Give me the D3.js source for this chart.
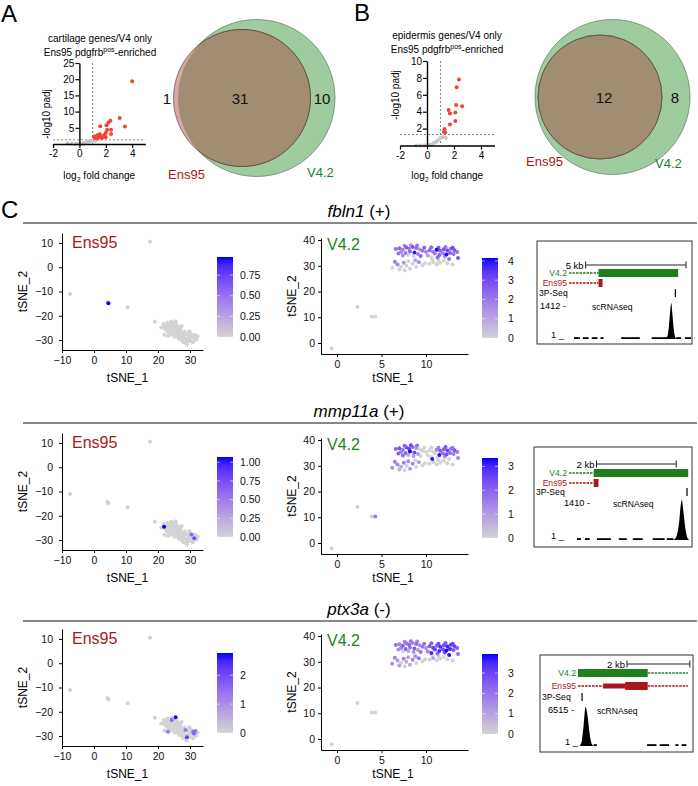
<!DOCTYPE html>
<html>
<head>
<meta charset="utf-8">
<script src="https://cdn.jsdelivr.net/npm/d3@7"></script>
<style>
  body { margin: 0; background: #fff; }
  svg { font-family: "Liberation Sans", Arial, Helvetica, sans-serif; }
</style>
</head>
<body>
<svg id="fig" width="698" height="786"></svg>
<script>
// ---------------- data ----------------
// volcano A: cartilage genes, [log2FC, -log10 padj]
const volcA_sig = [[4.0,19.4],[3.05,8.0],[3.45,5.4],[2.35,7.2],[2.2,6.6],[2.05,5.8],[1.58,5.5],[2.1,4.4],[2.4,4.4],
  [2.0,3.5],[2.4,3.1],[1.55,3.0],[1.3,2.5],[1.5,2.2],[1.4,2.8],[1.25,2.0],[1.15,1.9],[1.1,2.3],[1.8,2.4],
  [2.0,2.1],[1.7,1.8],[1.9,2.8],[1.35,1.7]];
const volcA_ns = [[-0.9,0.2],[-0.6,0.1],[-0.3,0.0],[-0.1,0.1],[0.1,0.05],[0.3,0.2],[0.45,0.35],[0.6,0.6],
  [0.75,0.8],[0.9,1.0],[1.05,1.1],[1.2,1.0],[0.35,0.1],[0.2,0.0]];
// volcano B: epidermis genes
const volcB_sig = [[2.37,7.8],[2.2,6.9],[2.16,4.8],[2.6,4.65],[1.6,4.2],[2.1,3.9],[1.7,3.8],[2.1,2.9],
  [1.7,2.5],[1.3,1.95],[1.25,1.6],[1.35,1.55]];
const volcB_ns = [[-0.8,0.0],[-0.5,0.0],[-0.2,0.0],[0.1,0.05],[0.3,0.1],[0.5,0.3],[0.65,0.4],[0.8,0.6],
  [1.0,0.9],[1.2,1.0],[1.4,0.9]];
const padjCut = 1.3;

// venn counts: [Ens95 only, shared, V4.2 only]
const vennA = [1, 31, 10];
const vennB = [0, 12, 8];

// tSNE coordinates, Ens95 cells
const ens95Cells = [
  [17.5,10.5],[-7.5,-11.0],[4.2,-14.3],[4.5,-14.8],[10.5,-16.5],[19.0,-22.5],
  [21.9,-24.5],[30.5,-27.7],[31.3,-29.3],
  [25.5,-22.3],[24.3,-23.4],[23.1,-28.2],[28.6,-27.5],[31.0,-28.2],[31.7,-27.9],[29.0,-30.5],[31.2,-29.0],
  [21.0,-24.8],[21.8,-23.4],[22.5,-24.2],[23.0,-22.8],[23.5,-23.9],[24.2,-22.5],[24.8,-23.2],[25.3,-23.6],
  [22.2,-25.5],[23.1,-25.0],[23.8,-24.6],[24.5,-24.9],[25.2,-24.3],[25.9,-23.8],[26.4,-24.6],[22.8,-26.3],
  [23.6,-26.0],[24.3,-26.4],[25.0,-25.8],[25.7,-25.5],[26.3,-25.9],[27.0,-25.4],[23.4,-27.3],[24.0,-27.8],
  [24.9,-27.2],[25.6,-27.0],[26.2,-27.4],[27.0,-26.8],[27.6,-27.2],[28.3,-26.5],[25.2,-28.6],[26.0,-28.4],
  [26.8,-28.2],[27.5,-28.6],[28.2,-28.0],[28.9,-27.6],[29.5,-27.9],[30.2,-27.4],[26.5,-29.5],[27.3,-29.8],
  [28.0,-29.4],[28.8,-29.6],[29.6,-29.2],[30.3,-29.0],[31.6,-29.8],[27.8,-30.8],[28.6,-31.2],[29.4,-30.6],
  [30.2,-30.4],[30.9,-30.9],[29.0,-31.8],[22.0,-27.8],[27.4,-24.2],[29.8,-26.4],[32.4,-28.5],[32.0,-29.8]
];
// Ens95 expression, [cell index, value]; all other cells 0
const fbln1Ens = [[3,0.97]];
const mmp11aEns = [[6,1.07],[7,0.6],[8,0.75]];
const ptx3aEns = [[9,2.75],[10,1.6],[11,1.4],[12,1.3],[13,1.6],[14,1.4],[15,2.2],[16,1.7]];

// tSNE coordinates, V4.2 cells
const v42Cells = [
  [-0.6,-2.0],[2.3,14.0],[3.9,10.3],[4.3,10.3],
  [6.2,29.2],[6.8,30.5],[7.2,29.6],[7.5,31.2],[7.8,30.0],[8.2,28.9],[8.5,30.8],[8.9,29.5],[9.2,31.4],[9.6,30.2],
  [7.0,28.6],[7.6,28.3],[8.0,31.8],[8.8,32.2],[9.9,31.0],[6.5,31.6],[10.4,30.8],[10.8,31.5],[11.2,30.6],[11.6,31.2],
  [12.0,32.0],[11.4,32.2],[10.7,32.6],[13.0,30.5],[12.4,31.0],
  [6.6,36.5],[7.0,36.8],[7.4,36.2],[7.8,37.1],[8.1,36.6],[8.5,37.3],[8.9,36.9],[9.3,36.4],
  [7.2,35.4],[7.7,35.0],[8.2,35.6],[8.7,35.2],[9.1,34.6],[9.6,35.8],[10.0,35.4],[10.4,36.0],
  [10.8,35.5],[11.2,36.2],[11.6,35.8],[12.0,36.4],[12.4,35.9],[12.8,36.6],[13.2,36.0],[13.5,35.4],
  [11.0,34.8],[11.5,34.2],[11.9,34.9],[12.3,34.4],[12.7,35.0],[13.1,34.6],[13.6,33.0],[10.2,34.0],
  [10.6,33.4],[11.3,33.2],[12.1,33.6],[12.6,32.6],[9.4,33.8],[8.6,33.8],[8.0,34.2],[7.4,34.0],
  [6.9,34.8],[9.8,37.0],[10.6,37.2],[11.4,37.0],[12.2,37.3],[13.0,37.0],[8.3,38.0],[9.0,37.9],[7.6,37.8]
];
// V4.2 expression, one value per cell above
const fbln1V42 = [
  0,0,0,0,
  0,1.8,0,1.5,0,0,0,0,1.6,0, 0,0,0,1.2,0,2.0,0,0,0,0, 0,0,0,0,0,
  2.2,2.5,1.8,2.6,2.0,2.8,2.4,1.5, 1.6,2.0,2.3,3.9,1.8,2.2,1.7,2.5,
  2.0,4.1,2.6,2.8,3.0,2.4,2.7,2.2, 2.0,2.5,1.8,4.0,2.6,2.2,2.8,1.2,
  0,2.3,1.6,2.0,2.5,0,0,1.5, 2.2,2.6,2.4,2.8,2.0,3.0,1.5,2.0,1.8
];
const mmp11aV42 = [
  0,0,0,1.6,
  1.2,1.5,0.8,1.6,0,1.0,1.4,0,0.9,0, 0.6,0,1.3,0,0,1.6,0,0,0,0, 0,0,3.2,0,0,
  2.0,2.4,1.6,2.2,2.6,1.8,1.2,0, 1.5,2.0,3.3,2.4,1.0,0,0,0,
  0,1.5,2.2,2.0,2.5,1.8,2.2,1.6, 0,3.2,1.8,2.4,2.0,1.5,1.4,0,
  0,0,1.2,0,0,1.0,0.8,1.8, 2.0,0,0,1.6,2.2,1.5,2.5,1.8,2.0
];
const ptx3aV42 = [
  0,0,0,0,
  1.5,1.2,0,1.8,0.8,1.0,1.6,0,2.0,0, 1.2,0,1.1,1.5,0,1.8,0,1.0,0,0, 0,0,0,0,0,
  2.2,1.8,2.5,2.0,2.4,1.6,2.2,1.5, 1.8,2.4,2.0,2.6,1.2,2.0,1.5,2.6,
  3.0,2.4,3.4,2.8,3.6,3.2,3.0,2.5, 3.2,3.5,2.8,3.9,3.6,2.6,2.2,1.8,
  3.6,2.4,3.0,3.8,2.0,1.4,1.0,0, 1.5,2.2,2.4,2.8,2.6,3.0,2.0,1.6,1.8
];

const genes = ["fbln1", "mmp11a", "ptx3a"];
const geneSigns = ["(+)", "(+)", "(-)"];
const ensExpr = [fbln1Ens, mmp11aEns, ptx3aEns];
const v42Expr = [fbln1V42, mmp11aV42, ptx3aV42];
const ensMax = [0.97, 1.07, 2.77];
const v42Max = [4.15, 3.35, 3.94];
const ensLegendTicks = [[0, 0.25, 0.5, 0.75], [0, 0.25, 0.5, 0.75, 1.0], [0, 1, 2]];
const v42LegendTicks = [[0, 1, 2, 3, 4], [0, 1, 2, 3], [0, 1, 2, 3]];

// genome browser tracks (positions in kb from window start)
const trackWindowKb = [6.08, 3.06, 3.63];
const trackBarKb = [[0.83, 5.83], [0.69, 2.69], [1.56, 3.56]];
const trackBarLabel = ["5 kb", "2 kb", "2 kb"];
const trackV42 = [
  [[0, 1.47, "thin"], [1.47, 5.44, "thick"]],
  [[0, 0.62, "thin"], [0.62, 2.99, "thick"]],
  [[0, 2.22, "thick"], [2.22, 3.5, "thin"]]
];
const trackEns = [
  [[0, 1.47, "thin"], [1.47, 1.67, "thick"]],
  [[0, 0.62, "thin"], [0.62, 0.74, "thick"]],
  [[0, 0.8, "thin"], [0.8, 1.5, "utr"], [1.5, 2.22, "thick"], [2.22, 3.5, "thin"]]
];
const track3P = [5.3, 2.96, 0.13];
const trackCovMax = [1412, 1410, 6515];
const trackCovLow = [
  [[0.25,0.54],[0.69,0.98],[1.13,1.42],[1.57,1.72],[2.6,3.53],[4.12,4.95],[5.34,5.59],[5.78,6.08]],
  [[0.2,0.3],[0.4,0.52],[0.7,1.05],[1.25,1.45],[1.6,1.85],[2.1,2.4],[2.45,2.62]],
  [[0.5,0.6],[2.2,2.5],[2.6,2.9],[3.1,3.2],[3.3,3.45]]
];
const trackCovPeak = [
  [[4.80,1],[4.90,100],[4.98,500],[5.05,1150],[5.10,1412],[5.15,1000],[5.22,380],[5.30,60],[5.36,1]],
  [[2.62,1],[2.70,150],[2.76,600],[2.80,1200],[2.83,1410],[2.87,1000],[2.92,400],[2.97,80],[3.02,1]],
  [[0.05,1],[0.12,800],[0.18,3500],[0.24,6515],[0.30,5200],[0.36,2500],[0.42,600],[0.50,1]]
];

// ---------------- drawing ----------------
const svg = d3.select("#fig");
const RED = "#f4442e", NS = "#c6c6c6";
const ENS_COL = "#a81818", V42_COL = "#1f7f1f";
const LOW = "#d3d3d3", HIGH = "#0000ff";

function panelLetter(t, x, y) {
  svg.append("text").attr("x", x).attr("y", y).attr("font-size", 24).text(t);
}
panelLetter("A", 1, 22);
panelLetter("B", 354, 21);
panelLetter("C", 1, 218);

function volcano(sig, ns, ymax, yticks, xr, yr, title1, titleX, titleY, ylabX, ylabY) {
  const g = svg.append("g");
  const x = d3.scaleLinear().domain([-2, 5]).range(xr);
  const y = d3.scaleLinear().domain([0, ymax]).range(yr);

  g.append("text").attr("x", titleX).attr("y", titleY).attr("text-anchor", "middle")
    .attr("font-size", 10).text(title1);
  const t2 = g.append("text").attr("x", titleX).attr("y", titleY + 14).attr("text-anchor", "middle")
    .attr("font-size", 10);
  t2.append("tspan").text("Ens95 pdgfrb");
  t2.append("tspan").attr("dy", -4).attr("font-size", 7).text("pos");
  t2.append("tspan").attr("dy", 4).text("-enriched");

  g.append("line").attr("x1", x(1)).attr("x2", x(1)).attr("y1", y(ymax)).attr("y2", y(0))
    .attr("stroke", "#555").attr("stroke-width", 0.7).attr("stroke-dasharray", "2,2");
  g.append("line").attr("x1", x(-2)).attr("x2", x(5)).attr("y1", y(padjCut)).attr("y2", y(padjCut))
    .attr("stroke", "#555").attr("stroke-width", 0.7).attr("stroke-dasharray", "2,2");

  g.selectAll(".ns").data(ns).enter().append("circle")
    .attr("cx", d => x(d[0])).attr("cy", d => y(d[1])).attr("r", 2).attr("fill", NS);
  g.selectAll(".sig").data(sig).enter().append("circle")
    .attr("cx", d => x(d[0])).attr("cy", d => y(d[1])).attr("r", 2).attr("fill", RED);

  const ya = g.append("g").attr("transform", `translate(${x(0)},0)`)
    .call(d3.axisLeft(y).tickValues(yticks).tickSize(4).tickSizeOuter(0).tickPadding(1));
  const xa = g.append("g").attr("transform", `translate(0,${y(0)})`)
    .call(d3.axisBottom(x).tickValues([-2, 0, 2, 4]).tickSize(4).tickSizeOuter(0).tickPadding(2));
  [ya, xa].forEach(a => {
    a.select(".domain").attr("stroke", "#000").attr("stroke-width", 1.4);
    a.selectAll(".tick line").attr("stroke", "#000").attr("stroke-width", 1.2);
    a.selectAll(".tick text").attr("font-size", 10).attr("fill", "#000").attr("font-family", null);
  });
  xa.selectAll(".tick text").text(d => d < 0 ? "-" + Math.abs(d) : d);

  g.append("text").attr("transform", `translate(${ylabX},${ylabY}) rotate(-90)`)
    .attr("text-anchor", "middle").attr("font-size", 10).text("-log10 padj");
  const xl = g.append("text").attr("x", x(1.5)).attr("y", 179).attr("text-anchor", "middle")
    .attr("font-size", 10);
  xl.append("tspan").text("log");
  xl.append("tspan").attr("dy", 3).attr("font-size", 7).text("2");
  xl.append("tspan").attr("dy", -3).text(" fold change");
}

volcano(volcA_sig, volcA_ns, 25, [5, 10, 15, 20, 25], [53, 145.4], [144, 63],
  "cartilage genes/V4 only", 100, 42, 50, 114);
volcano(volcB_sig, volcB_ns, 10, [2, 4, 6, 8, 10], [400, 494.5], [145.5, 61],
  "epidermis genes/V4 only", 447, 39, 399, 95);

function venn(id, counts, cxBig, cy, rBig, cxSmall, rSmall, labPos) {
  const g = svg.append("g");
  const clip = svg.append("clipPath").attr("id", id);
  clip.append("circle").attr("cx", cxBig).attr("cy", cy).attr("r", rBig);
  g.append("circle").attr("cx", cxBig).attr("cy", cy).attr("r", rBig)
    .attr("fill", "#9ecb9f").attr("stroke", "#5d7a5e").attr("stroke-width", 0.7);
  g.append("circle").attr("cx", cxSmall).attr("cy", cy).attr("r", rSmall)
    .attr("fill", "#dba7a4").attr("stroke", "#5b4b49").attr("stroke-width", 0.7);
  g.append("circle").attr("cx", cxSmall).attr("cy", cy).attr("r", rSmall)
    .attr("clip-path", `url(#${id})`).attr("fill", "#a08d72").attr("stroke", "#4a4336").attr("stroke-width", 0.7);
  counts.forEach((c, i) => {
    if (labPos[i] == null) return;
    g.append("text").attr("x", labPos[i]).attr("y", cy + 5.5).attr("text-anchor", "middle")
      .attr("font-size", 15).attr("fill", "#111").text(c);
  });
}
venn("clipA", vennA, 256.5, 98, 78.5, 242, 68.5, [167, 240, 322]);
svg.append("text").attr("x", 168).attr("y", 179).attr("font-size", 13).attr("fill", ENS_COL).text("Ens95");
svg.append("text").attr("x", 307).attr("y", 177).attr("font-size", 13).attr("fill", V42_COL).text("V4.2");
venn("clipB", vennB, 612.5, 97, 77.5, 600, 62, [null, 604, 675]);
svg.append("text").attr("x", 526).attr("y", 166).attr("font-size", 13).attr("fill", ENS_COL).text("Ens95");
svg.append("text").attr("x", 655).attr("y", 168).attr("font-size", 13).attr("fill", V42_COL).text("V4.2");

// ---------- panel C ----------
const color = (v, max) => d3.interpolateLab(LOW, HIGH)(Math.min(1, v / max));

function colorbar(gradId, x, top, max, ticks, fmt, labX) {
  const h = 80, w = 16;
  const grad = svg.append("defs").append("linearGradient").attr("id", gradId)
    .attr("x1", 0).attr("y1", 1).attr("x2", 0).attr("y2", 0);
  d3.range(0, 1.01, 0.1).forEach(t => grad.append("stop").attr("offset", t).attr("stop-color", color(t, 1)));
  svg.append("rect").attr("x", x).attr("y", top).attr("width", w).attr("height", h).attr("fill", `url(#${gradId})`);
  const s = d3.scaleLinear().domain([0, max]).range([top + h, top]);
  ticks.forEach(t => {
    svg.append("line").attr("x1", x).attr("x2", x + 3).attr("y1", s(t)).attr("y2", s(t)).attr("stroke", "#fff").attr("stroke-width", 0.6);
    svg.append("line").attr("x1", x + w - 3).attr("x2", x + w).attr("y1", s(t)).attr("y2", s(t)).attr("stroke", "#fff").attr("stroke-width", 0.6);
    svg.append("text").attr("x", labX).attr("y", s(t) + 3.7).attr("font-size", 10.5).attr("fill", "#111").text(fmt(t));
  });
}

function tsne(cells, vals, max, xDom, xRange, yDom, yRange, xTicks, yTicks, name, nameCol, nameX, nameY,
  ylabX, xlabX, xlabY, ypad) {
  const g = svg.append("g");
  const x = d3.scaleLinear().domain(xDom).range(xRange);
  const y = d3.scaleLinear().domain(yDom).range(yRange);
  const pts = cells.map((c, i) => ({ x: c[0], y: c[1], v: vals[i] }))
    .sort((a, b) => a.v - b.v);
  g.selectAll("circle").data(pts).enter().append("circle")
    .attr("cx", d => x(d.x)).attr("cy", d => y(d.y)).attr("r", 2)
    .attr("fill", d => color(d.v, max));
  const xa = g.append("g").attr("transform", `translate(0,${yRange[0]})`)
    .call(d3.axisBottom(x).tickValues(xTicks).tickSize(3).tickSizeOuter(0).tickPadding(4));
  const ya = g.append("g").attr("transform", `translate(${xRange[0]},0)`)
    .call(d3.axisLeft(y).tickValues(yTicks).tickSize(3).tickSizeOuter(0).tickPadding(ypad));
  [xa, ya].forEach(a => {
    a.select(".domain").attr("stroke", "#000").attr("stroke-width", 1);
    a.selectAll(".tick line").attr("stroke", "#000");
    a.selectAll(".tick text").attr("font-size", 10.5).attr("fill", "#111").attr("font-family", null);
  });
  g.append("text").attr("x", nameX).attr("y", nameY).attr("font-size", 16).attr("fill", nameCol).text(name);
  g.append("text").attr("transform", `translate(${ylabX},${(yRange[0] + yRange[1]) / 2}) rotate(-90)`)
    .attr("text-anchor", "middle").attr("font-size", 12).text("tSNE_2");
  g.append("text").attr("x", xlabX).attr("y", xlabY)
    .attr("text-anchor", "middle").attr("font-size", 12).text("tSNE_1");
}

function track(i, bx, by, bw, bh, labRight, rows) {
  const g = svg.append("g");
  g.append("rect").attr("x", bx).attr("y", by).attr("width", bw).attr("height", bh)
    .attr("fill", "none").attr("stroke", "#333").attr("stroke-width", 1);
  const kb = d3.scaleLinear().domain([0, trackWindowKb[i]]).range([labRight + 2, bx + bw - 1]);
  const fs = 8.6;
  // scale bar
  const [b0, b1] = trackBarKb[i];
  g.append("text").attr("x", kb(b0) - 2).attr("y", by + rows[0] + 3.5).attr("text-anchor", "end")
    .attr("font-size", 9.5).text(trackBarLabel[i]);
  g.append("line").attr("x1", kb(b0)).attr("x2", kb(b1)).attr("y1", by + rows[0]).attr("y2", by + rows[0]).attr("stroke", "#222");
  [b0, b1].forEach(b => g.append("line").attr("x1", kb(b)).attr("x2", kb(b))
    .attr("y1", by + rows[0] - 3.5).attr("y2", by + rows[0] + 3.5).attr("stroke", "#222"));
  // gene models
  [[trackV42[i], "V4.2", V42_COL, rows[1]], [trackEns[i], "Ens95", ENS_COL, rows[2]]].forEach(([segs, lab, col, ry]) => {
    const yy = by + ry;
    g.append("text").attr("x", labRight).attr("y", yy + 3).attr("text-anchor", "end")
      .attr("font-size", fs).attr("fill", col).text(lab);
    segs.forEach(([s, e, type]) => {
      if (type === "thin") {
        g.append("line").attr("x1", kb(s)).attr("x2", kb(e)).attr("y1", yy).attr("y2", yy)
          .attr("stroke", col).attr("stroke-width", 1.4).attr("stroke-dasharray", "2.5,1");
      } else {
        const hh = type === "thick" ? 8 : 5;
        g.append("rect").attr("x", kb(s)).attr("y", yy - hh / 2).attr("width", kb(e) - kb(s)).attr("height", hh)
          .attr("fill", col);
      }
    });
  });
  // 3P-Seq
  g.append("text").attr("x", bx + 2).attr("y", by + rows[3] + 3).attr("font-size", fs).text("3P-Seq");
  g.append("line").attr("x1", kb(track3P[i])).attr("x2", kb(track3P[i]))
    .attr("y1", by + rows[3] - 4).attr("y2", by + rows[3] + 4).attr("stroke", "#000").attr("stroke-width", 1.2);
  // coverage
  const base = by + rows[5];
  const cy = d3.scaleLinear().domain([1, trackCovMax[i]]).range([base, by + rows[4] - 3]);
  g.append("text").attr("x", rows[6]).attr("y", by + rows[4] + 3).attr("font-size", 9.2)
    .text(trackCovMax[i] + " -");
  g.append("text").attr("x", rows[7]).attr("y", by + rows[4] + 4).attr("font-size", fs).text("scRNAseq");
  g.append("text").attr("x", rows[8]).attr("y", base - 1).attr("font-size", 9.2).text("1 _");
  trackCovLow[i].forEach(([s, e]) => g.append("rect").attr("x", kb(s)).attr("y", base - 1.8)
    .attr("width", kb(e) - kb(s)).attr("height", 1.8).attr("fill", "#000"));
  g.append("path").datum(trackCovPeak[i])
    .attr("d", d3.area().x(d => kb(d[0])).y0(base).y1(d => cy(d[1])).curve(d3.curveMonotoneX))
    .attr("fill", "#000");
}

const rowOff = [0, 200, 396];
const lineY = [223, 423, 621];
const trackBoxes = [[537, 241, 155, 103, 567], [534, 447, 158, 100, 567], [540, 655, 153, 97, 576]];
// rows: scale bar, V4.2, Ens95, 3P, max label, baseline, maxX, scX, oneX
const trackRows = [
  [24, 32, 42, 52, 65, 98, 540, 592, 551],
  [17, 26, 36, 45, 56, 93, 564, 613, 551],
  [9, 18, 31, 42, 55, 91, 548, 597, 565]
];

genes.forEach((gname, i) => {
  const o = rowOff[i];
  svg.append("line").attr("x1", 23).attr("x2", 697).attr("y1", lineY[i]).attr("y2", lineY[i])
    .attr("stroke", "#111").attr("stroke-width", 1);
  const tt = svg.append("text").attr("x", 359).attr("y", lineY[i] - 6).attr("text-anchor", "middle")
    .attr("font-size", 17);
  tt.append("tspan").attr("font-style", "italic").text(gname);
  tt.append("tspan").text(" " + geneSigns[i]);

  const ensVals = ens95Cells.map(() => 0);
  ensExpr[i].forEach(([k, v]) => { ensVals[k] = v; });
  tsne(ens95Cells, ensVals, ensMax[i], [-10, 34.06], [62, 203], [-34.1, 14.1], [350 + o, 233 + o],
    [-10, 0, 10, 20, 30], [-30, -20, -10, 0, 10], "Ens95", ENS_COL, 72, 248 + o, 27, 127.5, 382 + o, 6);
  colorbar("gE" + i, 217, 257 + o, ensMax[i], ensLegendTicks[i], d3.format(i < 2 ? ".2f" : "d"), 240);

  tsne(v42Cells, v42Expr[i], v42Max[i], [-1.8, 14.72], [321, 468], [-4.27, 40.8], [354 + o, 238 + o],
    [0, 5, 10], [0, 10, 20, 30, 40], "V4.2", V42_COL, 327, 250 + o, 296, 393, 382 + o, 3);
  colorbar("gV" + i, 482, 258 + o, v42Max[i], v42LegendTicks[i], d3.format("d"), 508);

  const [bx, by, bw, bh, lr] = trackBoxes[i];
  track(i, bx, by, bw, bh, lr, trackRows[i]);
});
</script>
</body>
</html>
